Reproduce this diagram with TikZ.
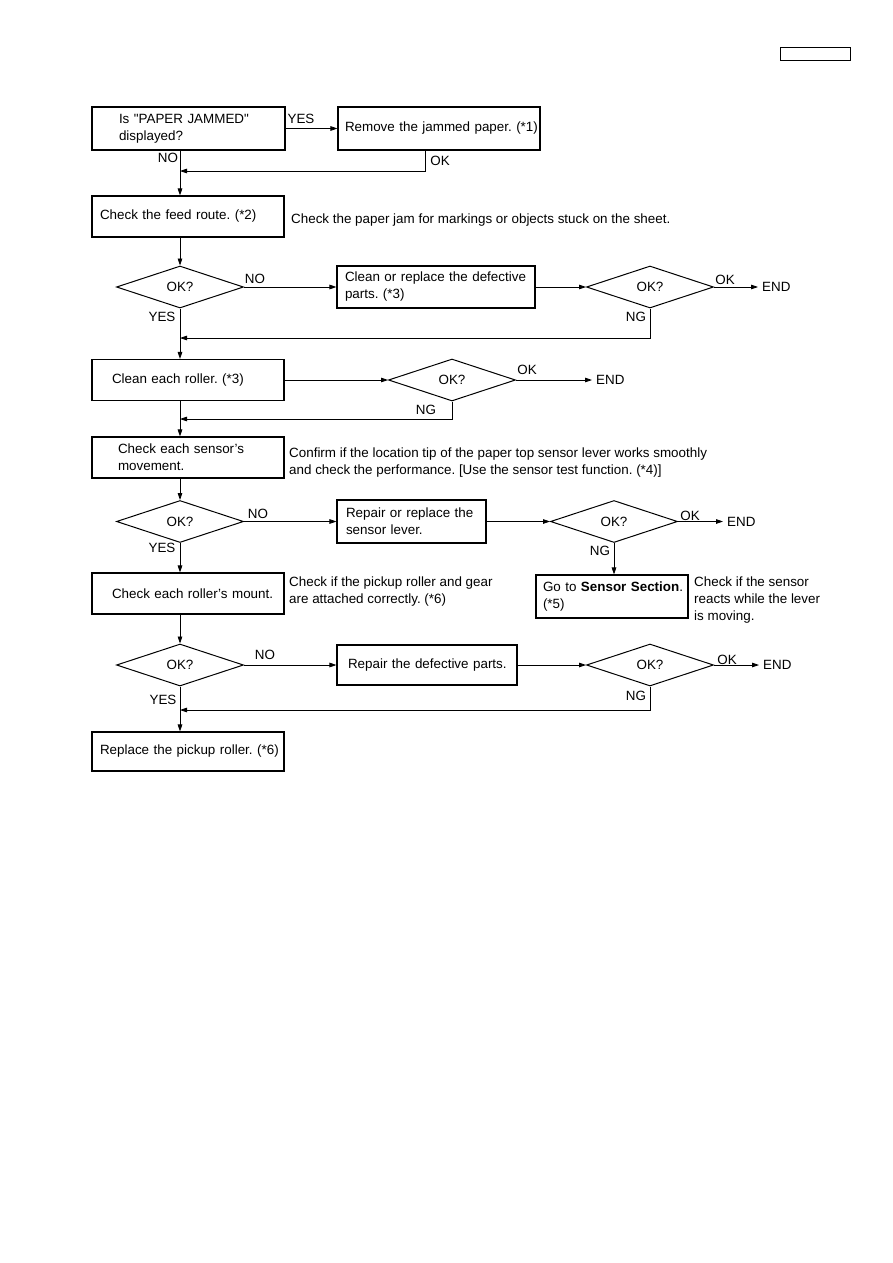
\documentclass[tikz,border=0pt]{standalone}
\usepackage{fontspec}
\setmainfont{Liberation Sans}
\usetikzlibrary{shapes.geometric,arrows.meta}
\frenchspacing
\hbadness=10000 \hfuzz=100pt
\begin{document}
\begin{tikzpicture}[x=1pt,y=-1pt,
  every node/.style={font=\fontsize{13.4}{17}\selectfont},
  box/.style={draw,line width=1.1pt,align=left,inner ysep=0pt},
  dia/.style={diamond,draw,line width=1pt,minimum width=127pt,minimum height=42pt,inner sep=0pt},
  lbl/.style={inner sep=0pt},
  note/.style={inner sep=0pt,align=left,anchor=west},
  arr/.style={-{Triangle[length=7pt,width=4.6pt]},line width=0.8pt},
  ln/.style={line width=0.8pt}]
\useasboundingbox (0,0) rectangle (893,1263);
% header box
\node[draw,line width=0.9pt,minimum width=70pt,minimum height=13pt,inner sep=0pt] (hdr) at (815,53.5) {};
% boxes
\node[box,inner xsep=27pt,text width=139pt,minimum height=43pt] (b1) at (188.5,128.5) {\mbox{Is \textquotedbl PAPER JAMMED\textquotedbl}\\displayed?};
\node[box,inner xsep=7pt,text width=188pt,minimum height=43pt] (b2) at (439,128.5) {\mbox{Remove the jammed paper. (*1)}};
\node[box,inner xsep=8pt,text width=176pt,minimum height=41pt] (b3) at (188,216.5) {\mbox{Check the feed route. (*2)}};
\node[box,inner xsep=8pt,text width=182pt,minimum height=42pt] (b4) at (436,287) {\mbox{Clean or replace the defective}\\parts. (*3)};
\node[box,inner xsep=20pt,text width=152pt,minimum height=41pt] (b5) at (188,380) {\mbox{Clean each roller. (*3)}};
\node[box,inner xsep=26pt,text width=140pt,minimum height=41pt] (b6) at (188,457.5) {\mbox{Check each sensor's}\\movement.};
\node[box,inner xsep=9pt,text width=131pt,minimum height=43pt] (b7) at (411.5,521.5) {\mbox{Repair or replace the}\\sensor lever.};
\node[box,inner xsep=7pt,text width=138pt,minimum height=43pt] (b8) at (612,596.5) {\mbox{Go to \textbf{Sensor Section}.}\\(*5)};
\node[box,inner xsep=20pt,text width=152pt,minimum height=41pt] (b9) at (188,593.5) {\mbox{Check each roller's mount.}};
\node[box,inner xsep=11pt,text width=158pt,minimum height=40pt] (b10) at (427,665) {\mbox{Repair the defective parts.}};
\node[box,inner xsep=8pt,text width=176pt,minimum height=39pt] (b11) at (188,751.5) {\mbox{Replace the pickup roller. (*6)}};
% diamonds
\node[dia] (d1) at (180,287) {OK?};
\node[dia] (d2) at (650,287) {OK?};
\node[dia] (d3) at (452,380) {OK?};
\node[dia] (d4) at (180,521.5) {OK?};
\node[dia] (d5) at (614,521.5) {OK?};
\node[dia] (d6) at (180,665) {OK?};
\node[dia] (d7) at (650,665) {OK?};
% END nodes
\node[lbl,anchor=west] (e2) at (762,287) {END};
\node[lbl,anchor=west] (e3) at (596,380) {END};
\node[lbl,anchor=west] (e5) at (727,521.5) {END};
\node[lbl,anchor=west] (e7) at (763,665) {END};
% junction coordinates on trunk
\coordinate (j1) at (180,171);
\coordinate (j2) at (180,338);
\coordinate (j3) at (180,419);
\coordinate (j7) at (180,710);
% connectors
\draw[arr] (b1.east) -- (b2.west);
\draw[ln] (b1.south -| d1.center) -- (j1);
\draw[arr] (j1) -- (b3.north -| d1.center);
\draw[arr] ([xshift=-14pt]b2.south) |- (j1);
\draw[arr] (b3.south -| d1.center) -- (d1.north);
\draw[arr] (d1.east) -- (b4.west);
\draw[arr] (b4.east) -- (d2.west);
\draw[arr] (d2.east) -- ([xshift=-4pt]e2.west);
\draw[arr] (d2.south) |- (j2);
\draw[ln] (d1.south) -- (j2);
\draw[arr] (j2) -- (b5.north -| d1.center);
\draw[arr] (b5.east) -- (d3.west);
\draw[arr] (d3.east) -- ([xshift=-4pt]e3.west);
\draw[arr] (d3.south) |- (j3);
\draw[ln] (b5.south -| d1.center) -- (j3);
\draw[arr] (j3) -- (b6.north -| d1.center);
\draw[arr] (b6.south -| d1.center) -- (d4.north);
\draw[arr] (d4.east) -- (b7.west);
\draw[arr] (b7.east) -- (d5.west);
\draw[arr] (d5.east) -- ([xshift=-4pt]e5.west);
\draw[arr] (d5.south) -- (b8.north -| d5.south);
\draw[arr] (d4.south) -- (b9.north -| d4.south);
\draw[arr] (b9.south -| d1.center) -- (d6.north);
\draw[arr] (d6.east) -- (b10.west);
\draw[arr] (b10.east) -- (d7.west);
\draw[arr] (d7.east) -- ([xshift=-4pt]e7.west);
\draw[arr] (d7.south) |- (j7);
\draw[ln] (d6.south) -- (j7);
\draw[arr] (j7) -- (b11.north -| d1.center);
% labels
\node[lbl] (y1) at (301,119) {YES};
\node[lbl] (n1) at (168,158) {NO};
\node[lbl] (o1) at (440,161) {OK};
\node[lbl] (n2) at (255,279) {NO};
\node[lbl] (y2) at (162,317) {YES};
\node[lbl] (o2) at (725,280) {OK};
\node[lbl] (g2) at (636,317) {NG};
\node[lbl] (o3) at (527,370) {OK};
\node[lbl] (g3) at (426,410) {NG};
\node[lbl] (n4) at (258,514) {NO};
\node[lbl] (y4) at (162,548) {YES};
\node[lbl] (o5) at (690,516) {OK};
\node[lbl] (g5) at (600,551) {NG};
\node[lbl] (n6) at (265,655) {NO};
\node[lbl] (y6) at (163,700) {YES};
\node[lbl] (o7) at (727,660) {OK};
\node[lbl] (g7) at (636,696) {NG};
% notes
\node[note] (t3) at (291,220) {Check the paper jam for markings or objects stuck on the sheet.};
\node[note] (t6) at (289,462.5) {Confirm if the location tip of the paper top sensor lever works smoothly\\and check the performance. [Use the sensor test function. (*4)]};
\node[note] (t9) at (289,591.5) {Check if the pickup roller and gear\\are attached correctly. (*6)};
\node[note] (t8) at (694,600) {Check if the sensor\\reacts while the lever\\is moving.};
\end{tikzpicture}
\end{document}
